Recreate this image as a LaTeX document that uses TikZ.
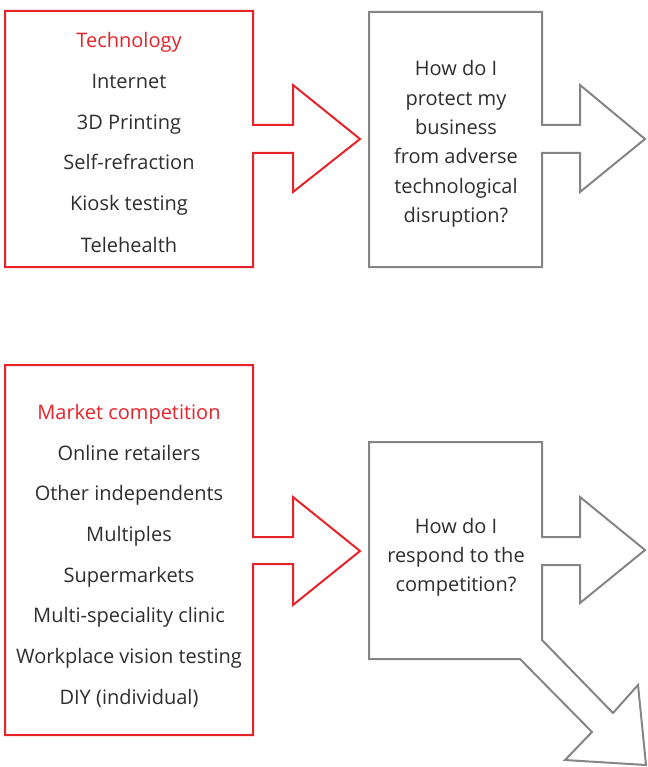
\documentclass[tikz,border=0pt]{standalone}
\usepackage{fontspec}
\setmainfont{Open Sans}
\definecolor{tred}{HTML}{E52329}
\definecolor{tgray}{HTML}{858585}
\definecolor{ttext}{HTML}{2E2E2E}
\begin{document}
\begin{tikzpicture}[x=1pt,y=-1pt,
  redshape/.style={draw=tred,line width=2pt,line join=miter},
  grayshape/.style={draw=tgray,line width=2pt,line join=miter},
  item/.style={text=ttext,font=\fontsize{20}{24}\selectfont,anchor=base,inner sep=0pt},
  headline/.style={item,text=tred}]
\useasboundingbox (0,0) rectangle (647,767);
% top red shape
\draw[redshape] (5,11) -- (253,11) -- (253,125) -- (293,125) -- (293,85) -- (360,139)
  -- (293,192) -- (293,153) -- (253,153) -- (253,267) -- (5,267) -- cycle;
% top gray shape
\draw[grayshape] (369,12) -- (542,12) -- (542,125) -- (580,125) -- (580,85) -- (645,139)
  -- (580,192) -- (580,153) -- (542,153) -- (542,267) -- (369,267) -- cycle;
% bottom red shape
\draw[redshape] (5,365) -- (253,365) -- (253,537) -- (293,537) -- (293,497) -- (360,551)
  -- (293,605) -- (293,564) -- (253,564) -- (253,735) -- (5,735) -- cycle;
% bottom gray shape
\draw[grayshape] (369,442) -- (542,442) -- (542,537) -- (580,537) -- (580,497) -- (645,550)
  -- (580,603) -- (580,565) -- (542,565) -- (542,640) -- (613,713) -- (638,685)
  -- (646,765) -- (565,760) -- (592,732) -- (520,659) -- (369,659) -- cycle;
% top texts
\node[headline] (t0) at (129,48) {Technology};
\node[item] (t1) at (129,89) {Internet};
\node[item] (t2) at (129,129.5) {3D Printing};
\node[item] (t3) at (129,170) {Self-refraction};
\node[item] (t4) at (129,211) {Kiosk testing};
\node[item] (t5) at (129,252) {Telehealth};
% top question
\node[item] (q1) at (456,76) {How do I};
\node[item] (q2) at (456,105.3) {protect my};
\node[item] (q3) at (456,134.6) {business};
\node[item] (q4) at (456,163.9) {from adverse};
\node[item] (q5) at (456,193.2) {technological};
\node[item] (q6) at (456,222.5) {disruption?};
% bottom texts
\node[headline] (m0) at (129,419.3) {Market competition};
\node[item] (m1) at (129,460) {Online retailers};
\node[item] (m2) at (129,500.7) {Other independents};
\node[item] (m3) at (129,541.4) {Multiples};
\node[item] (m4) at (129,582.1) {Supermarkets};
\node[item] (m5) at (129,622.8) {Multi-speciality clinic};
\node[item] (m6) at (129,663.5) {Workplace vision testing};
\node[item] (m7) at (129,704.2) {DIY (individual)};
% bottom question
\node[item] (r1) at (456,533) {How do I};
\node[item] (r2) at (456,562) {respond to the};
\node[item] (r3) at (456,591) {competition?};
\end{tikzpicture}
\end{document}
